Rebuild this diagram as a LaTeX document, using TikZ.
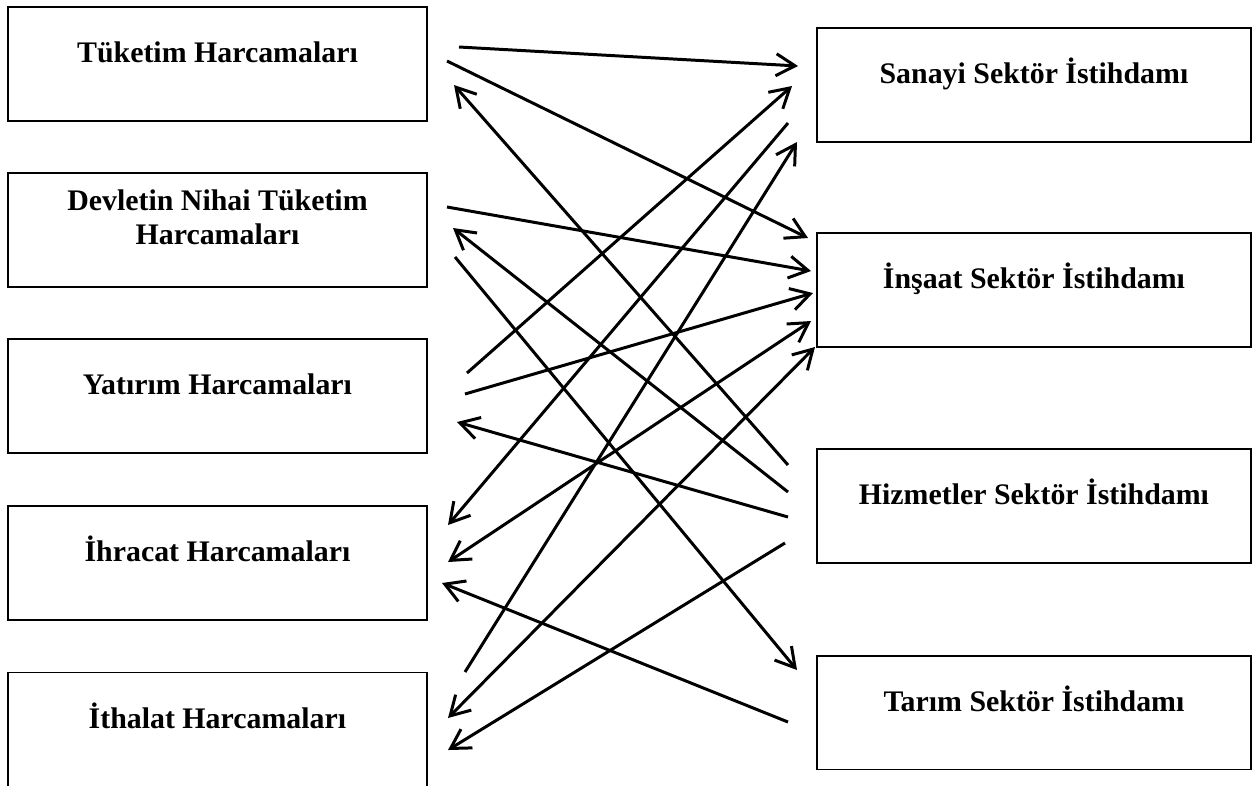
\documentclass[tikz,border=0pt]{standalone}
\usepackage{fontspec}
\setmainfont{Liberation Serif}
\usetikzlibrary{positioning, arrows.meta}
\tikzset{block/.style={draw, line width=0.7pt, minimum width=83.8mm, inner sep=0pt, outer sep=0pt, text height=11.1mm, text depth=11.7mm, align=center, font=\fontsize{17}{19.8}\selectfont\bfseries},
wide/.style={minimum width=86.8mm},
line/.style={-{Straight Barb[length=3.8mm,width=4.4mm]}, line width=1.7pt},
twoway/.style={{Straight Barb[length=3.8mm,width=4.4mm]}-{Straight Barb[length=3.8mm,width=4.4mm]}, line width=1.7pt}
}

\begin{document}
\begin{tikzpicture}[x=0.02cm, y=-0.02cm]
\useasboundingbox (0,0) rectangle (1253,785);

\node[block, anchor=north west] (tuk) at (8,7) {Tüketim Harcamaları};
\node[block, below=10.4mm of tuk, text height=14.4mm, text depth=8.4mm] (dev) {Devletin Nihai Tüketim\\Harcamaları};
\node[block, below=10.4mm of dev] (yat) {Yatırım Harcamaları};
\node[block, below=10.6mm of yat] (ihr) {İhracat Harcamaları};
\node[block, below=10.6mm of ihr] (ith) {İthalat Harcamaları};

\node[block, wide, anchor=north west] (san) at (817,28) {Sanayi Sektör İstihdamı};
\node[block, wide, below=18.2mm of san] (ins) {İnşaat Sektör İstihdamı};
\node[block, wide, below=20.4mm of ins] (hiz) {Hizmetler Sektör İstihdamı};
\node[block, wide, below=18.6mm of hiz] (tar) {Tarım Sektör İstihdamı};

% arrow ends beside the left boxes
\coordinate (t1) at (459,47); \coordinate (t2) at (447,61); \coordinate (t3) at (454,85);
\coordinate (d1) at (447,207); \coordinate (d2) at (453,228); \coordinate (d3) at (455,257);
\coordinate (y1) at (467,373); \coordinate (y2) at (465,394); \coordinate (y3) at (457,422);
\coordinate (h1) at (448,525); \coordinate (h2) at (448,562); \coordinate (h3) at (442,583);
\coordinate (i1) at (465,672); \coordinate (i2) at (448,718); \coordinate (i3) at (448,750);
% arrow ends beside the right boxes
\coordinate (s1) at (798,66); \coordinate (s2) at (792,86); \coordinate (s3) at (788,123); \coordinate (s4) at (797,142);
\coordinate (n1) at (808,238); \coordinate (n2) at (811,271); \coordinate (n3) at (813,293); \coordinate (n4) at (811,321); \coordinate (n5) at (815,347);
\coordinate (z1) at (788,465); \coordinate (z2) at (788,492); \coordinate (z3) at (788,517); \coordinate (z4) at (785,543);
\coordinate (r1) at (797,670); \coordinate (r2) at (788,722);

\draw[line] (t1) -- (s1);
\draw[line] (t2) -- (n1);
\draw[line] (z1) -- (t3);
\draw[line] (d1) -- (n2);
\draw[line] (z2) -- (d2);
\draw[line] (d3) -- (r1);
\draw[line] (y1) -- (s2);
\draw[line] (y2) -- (n3);
\draw[line] (z3) -- (y3);
\draw[line] (s3) -- (h1);
\draw[twoway] (h2) -- (n4);
\draw[line] (r2) -- (h3);
\draw[line] (i1) -- (s4);
\draw[twoway] (i2) -- (n5);
\draw[line] (z4) -- (i3);

\end{tikzpicture}
\end{document}
